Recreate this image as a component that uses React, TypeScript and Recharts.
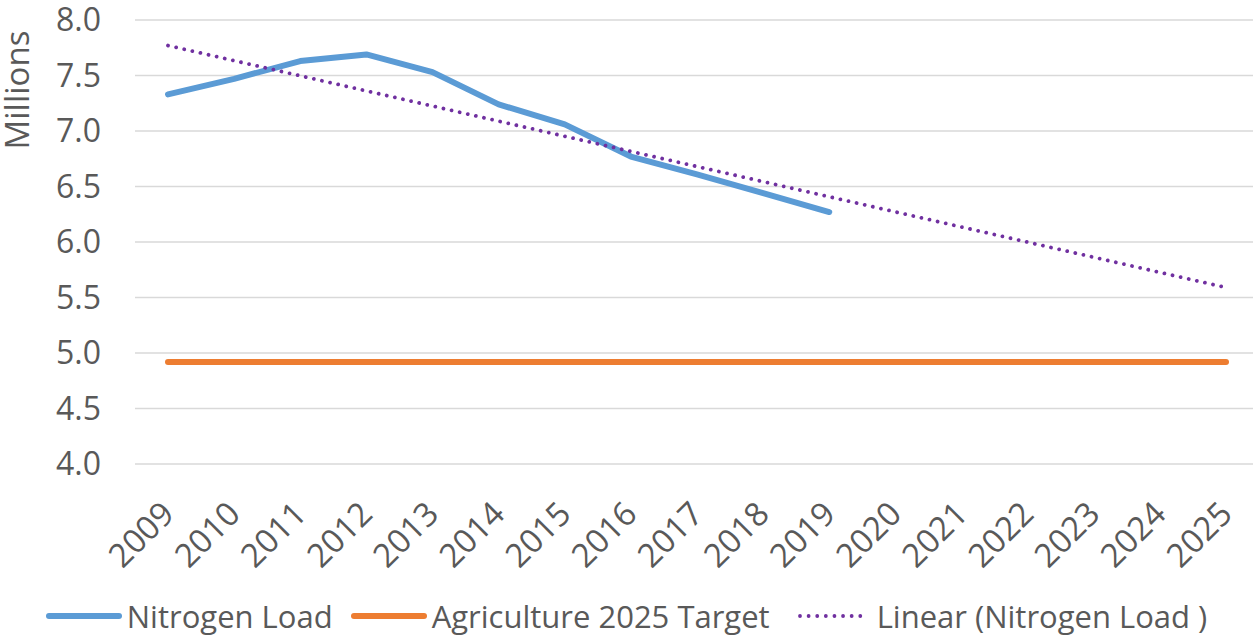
import React from 'react';
import { LineChart, Line, XAxis, YAxis, CartesianGrid, Legend } from 'recharts';

const years = ['2009','2010','2011','2012','2013','2014','2015','2016','2017','2018','2019','2020','2021','2022','2023','2024','2025'];
const nitrogenLoad = [7.33, 7.47, 7.63, 7.69, 7.53, 7.24, 7.06, 6.77, 6.61, 6.44, 6.27, null, null, null, null, null, null];
const agTarget = [4.92, 4.92, 4.92, 4.92, 4.92, 4.92, 4.92, 4.92, 4.92, 4.92, 4.92, 4.92, 4.92, 4.92, 4.92, 4.92, 4.92];
const linearTrend = [7.77, null, null, null, null, null, null, null, null, null, null, null, null, null, null, null, 5.59];
const yTicks = [4.0, 4.5, 5.0, 5.5, 6.0, 6.5, 7.0, 7.5, 8.0];

const data = years.map((y, i) => ({
  year: y,
  nitrogen: nitrogenLoad[i],
  target: agTarget[i],
  trend: linearTrend[i],
}));

const FONT = '"Open Sans", sans-serif';
const TEXT = '#595959';

const XTick = (props: any) => {
  const { x, y, payload } = props;
  const ax = x + 8;
  const ay = y + 44;
  return (
    <text
      x={ax}
      y={ay}
      transform={`rotate(-45 ${ax} ${ay})`}
      textAnchor="end"
      fill={TEXT}
      fontSize={33}
      fontFamily={FONT}
    >
      {payload.value}
    </text>
  );
};

const legendItems = [
  { label: 'Nitrogen Load', color: '#5B9BD5', dotted: false },
  { label: 'Agriculture 2025 Target', color: '#ED7D31', dotted: false },
  { label: 'Linear (Nitrogen Load )', color: '#7030A0', dotted: true },
];

const LegendContent = () => (
  <div style={{ display: 'flex', justifyContent: 'center', alignItems: 'center', fontFamily: FONT, fontSize: 31, lineHeight: '40px', color: TEXT, whiteSpace: 'nowrap', paddingTop: 7, marginLeft: -6 }}>
    {legendItems.map((it, i) => (
      <div key={i} style={{ display: 'flex', alignItems: 'center', marginRight: i === 0 ? 18 : i === 1 ? 26 : 0 }}>
        <svg width={76} height={12} style={{ marginRight: 5 }}>
          {it.dotted ? (
            <line x1={4} y1={6} x2={68} y2={6} stroke={it.color} strokeWidth={3.8} strokeLinecap="round" strokeDasharray="0.01 8.6" />
          ) : (
            <line x1={3} y1={6} x2={73} y2={6} stroke={it.color} strokeWidth={6} strokeLinecap="round" />
          )}
        </svg>
        <span>{it.label}</span>
      </div>
    ))}
  </div>
);

export default function App() {
  return (
    <div style={{ position: 'absolute', left: 0, top: 0, width: 1253, height: 639, overflow: 'hidden', background: '#fff' }}>
      <LineChart width={1260} height={639} data={data} margin={{ top: 20, right: 1, left: 0, bottom: 0 }}>
        <CartesianGrid vertical={false} stroke="#D9D9D9" strokeWidth={1.5} />
        <XAxis
          dataKey="year"
          axisLine={false}
          tickLine={false}
          height={125}
          padding={{ left: 33, right: 33 }}
          interval={0}
          tick={<XTick />}
        />
        <YAxis
          domain={[4, 8]}
          ticks={yTicks}
          width={135}
          axisLine={false}
          tickLine={false}
          tickSize={0}
          tickMargin={34}
          tickFormatter={(v: number) => v.toFixed(1)}
          tick={{ fill: TEXT, fontSize: 32, fontFamily: FONT }}
          label={{ value: 'Millions', angle: -90, position: 'insideLeft', dx: 12, dy: -152, fill: TEXT, fontSize: 33, fontFamily: FONT, style: { textAnchor: 'middle' } }}
        />
        <Legend verticalAlign="bottom" height={50} content={<LegendContent />} />
        <Line dataKey="target" stroke="#ED7D31" strokeWidth={6} strokeLinecap="round" dot={false} isAnimationActive={false} />
        <Line dataKey="nitrogen" stroke="#5B9BD5" strokeWidth={6} strokeLinecap="round" strokeLinejoin="round" dot={false} isAnimationActive={false} />
        <Line dataKey="trend" stroke="#7030A0" strokeWidth={3.8} strokeLinecap="round" strokeDasharray="0.01 8.3" connectNulls dot={false} isAnimationActive={false} />
      </LineChart>
    </div>
  );
}
